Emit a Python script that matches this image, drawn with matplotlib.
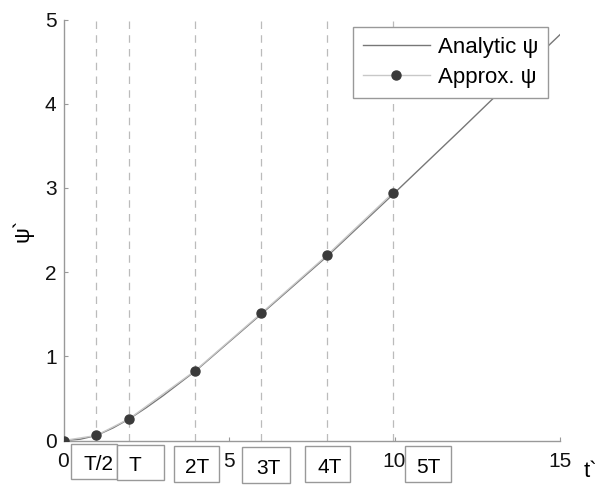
import matplotlib
matplotlib.use("Agg")
import matplotlib.pyplot as plt
from matplotlib.patches import Rectangle

plt.rcParams['font.family'] = ['Liberation Sans', 'DejaVu Sans']

# ---- data ----
T = 1.99
t_analytic = [0, 0.5, 1.0, 1.5, 2.0, 2.5, 3.0, 3.5, 4.0, 5, 6, 7, 8, 9, 10, 11, 12, 13, 14, 15]
psi_analytic = [0, 0.015, 0.06, 0.15, 0.26, 0.39, 0.53, 0.68, 0.83, 1.17, 1.51, 1.855,
                2.20, 2.57, 2.94, 3.315, 3.69, 4.07, 4.445, 4.82]
period_mult = [0, 0.5, 1, 2, 3, 4, 5]
psi_approx = [0, 0.06, 0.26, 0.83, 1.51, 2.20, 2.94]
marker_labels = ['T/2', 'T', '2T', '3T', '4T', '5T']
x_ticks = [0, 5, 10, 15]
y_ticks = [0, 1, 2, 3, 4, 5]

t_approx = [m * T for m in period_mult]
W, H = 604, 486

fig = plt.figure(figsize=(W / 100, H / 100), dpi=100)
ax = fig.add_axes([63.5 / W, 1 - 440.5 / H, (560 - 63.5) / W, (440.5 - 19.5) / H])

# dashed reference lines at T/2, T, 2T ...
for m in period_mult[1:]:
    ax.axvline(m * T, color='#bbbbbb', lw=0.9, ls=(0, (6, 5)), zorder=1)

ax.plot(t_analytic, psi_analytic, color='#777777', lw=1.0, label='Analytic ψ', zorder=3)
ax.plot(t_approx, psi_approx, color='#c8c8c8', lw=1.0, marker='o', ms=6.5,
        mfc='#3a3a3a', mec='#3a3a3a', label='Approx. ψ', zorder=4)

ax.set_xlim(0, 15)
ax.set_ylim(0, 5)
ax.set_xticks(x_ticks)
ax.set_yticks(y_ticks)
for s in ['top', 'right']:
    ax.spines[s].set_visible(False)
for s in ['left', 'bottom']:
    ax.spines[s].set_color('#999999')
    ax.spines[s].set_linewidth(1.0)
ax.tick_params(direction='in', length=3, color='#999999', labelsize=15, labelcolor='#111111')
ax.tick_params(axis='x', pad=8)
ax.tick_params(axis='y', pad=5)

ax.set_ylabel('ψ`', fontsize=16, labelpad=8)
fig.text(590 / W, 1 - 471 / H, 't`', fontsize=16, ha='center', va='center')

leg = ax.legend(loc='upper right', bbox_to_anchor=(548 / W, 1 - 27 / H),
                bbox_transform=fig.transFigure, borderaxespad=0, fontsize=16,
                handlelength=3.0, handletextpad=0.36, labelspacing=0.4,
                borderpad=0.45, fancybox=False, framealpha=1)
leg.get_frame().set_edgecolor('#999999')
leg.get_frame().set_linewidth(1.0)

# boxed period labels below the axis (pixel layout)
box_px = [(71, 444, 117, 479), (117, 445, 164, 480), (174, 446, 219, 482),
          (242, 447, 290, 483), (305, 446, 350, 482), (405, 446, 451, 482)]
text_px = [99, 135, 197, 268, 330, 428]
for lab, (x0, y0, x1, y1), tx in zip(marker_labels, box_px, text_px):
    fig.patches.append(Rectangle((x0 / W, 1 - y1 / H), (x1 - x0) / W, (y1 - y0) / H,
                                 transform=fig.transFigure, fill=True, fc='white',
                                 ec='#999999', lw=1.0, zorder=5))
    fig.text(tx / W, 1 - ((y0 + y1) / 2 + 3) / H, lab, fontsize=15, ha='center',
             va='center', zorder=6)

fig.savefig('out.png', dpi=100)
